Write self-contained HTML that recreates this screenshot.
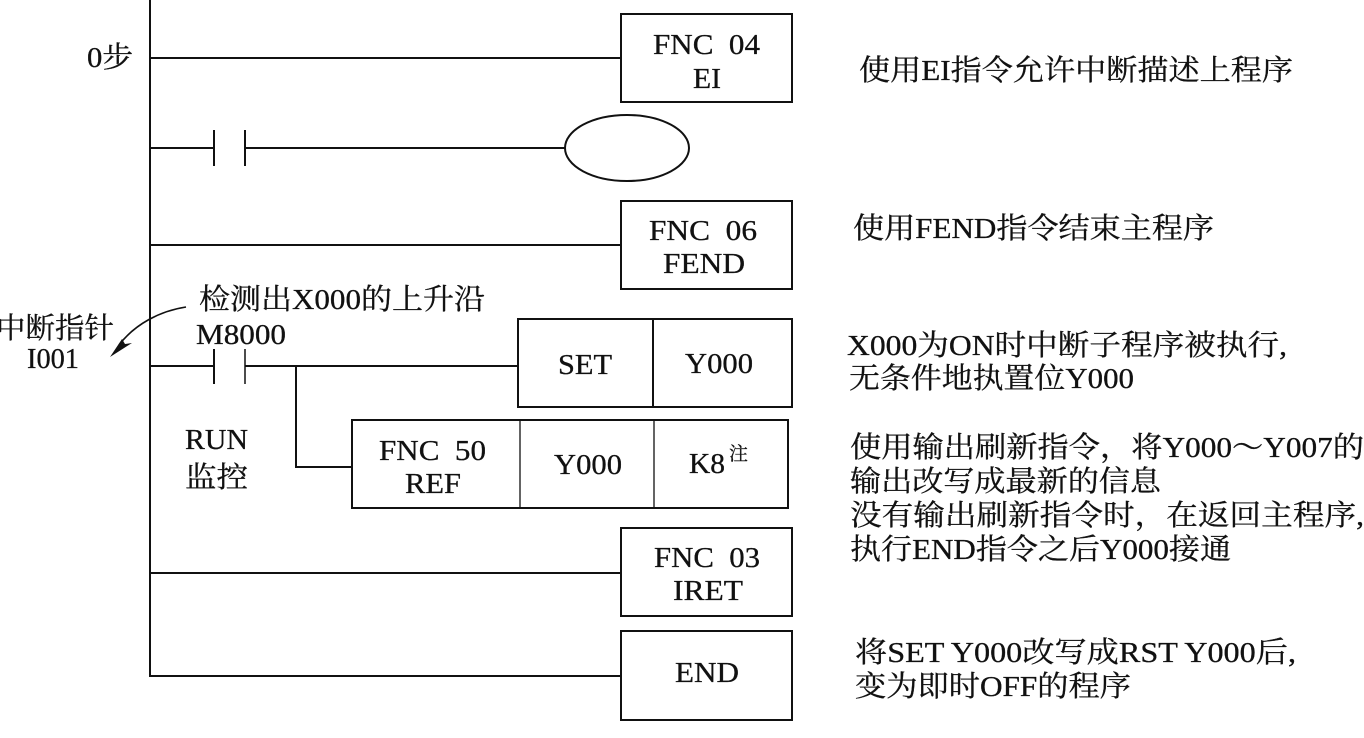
<!DOCTYPE html>
<html><head><meta charset="utf-8"><style>
html,body{margin:0;padding:0;background:#fff;width:1364px;height:738px;overflow:hidden}
svg{display:block}
text{font-family:"Liberation Serif","Noto Serif CJK SC",serif;font-size:29px;fill:#111;stroke:#111;stroke-width:.3;white-space:pre}
.l{fill:none;stroke:#111;stroke-width:2}
.b{fill:#fff;stroke:#111;stroke-width:2}
</style></head><body>
<svg width="1364" height="738" viewBox="0 0 1364 738" xmlns="http://www.w3.org/2000/svg">
<path class="l" d="M150 0V676H621M150 58H621M150 148H214M245 148H566M150 245H621M150 366H214M245 366H518M296 366V467H352M150 573H621"/>
<path class="l" d="M214 130V166M245 130V166M214 349V384"/>
<path d="M245 349V384" stroke="#111" stroke-width="1.5"/>
<ellipse class="b" cx="627" cy="148" rx="62" ry="33"/>
<rect class="b" x="621" y="14" width="171" height="88"/>
<rect class="b" x="621" y="201" width="171" height="88"/>
<rect class="b" x="518" y="319" width="274" height="88"/>
<path class="l" d="M653 319V407"/>
<rect class="b" x="352" y="420" width="436" height="88"/>
<path d="M520 420V508M654 420V508" stroke="#111" stroke-width="1.3"/>
<rect class="b" x="621" y="528" width="171" height="88"/>
<rect class="b" x="621" y="631" width="171" height="89"/>
<path d="M186 307C160 311 135 324 119 345" fill="none" stroke="#111" stroke-width="1.6"/>
<path d="M110 357L122 339L125 344L132 343Z" fill="#111"/>

<text x="87" y="67" textLength="46" lengthAdjust="spacingAndGlyphs">0步</text>
<text x="653" y="54" textLength="107" lengthAdjust="spacingAndGlyphs">FNC  04</text>
<text x="693" y="88" textLength="28" lengthAdjust="spacingAndGlyphs">EI</text>
<text x="649" y="240" textLength="108" lengthAdjust="spacingAndGlyphs">FNC  06</text>
<text x="663" y="273" textLength="82" lengthAdjust="spacingAndGlyphs">FEND</text>
<text x="558" y="374" textLength="54" lengthAdjust="spacingAndGlyphs">SET</text>
<text x="685" y="373" textLength="68" lengthAdjust="spacingAndGlyphs">Y000</text>
<text x="379" y="460" textLength="107" lengthAdjust="spacingAndGlyphs">FNC  50</text>
<text x="405" y="493" textLength="56" lengthAdjust="spacingAndGlyphs">REF</text>
<text x="554" y="474" textLength="68" lengthAdjust="spacingAndGlyphs">Y000</text>
<text x="689" y="473" textLength="36" lengthAdjust="spacingAndGlyphs">K8</text>
<text x="729" y="460" style="font-size:19px">注</text>
<text x="654" y="567" textLength="106" lengthAdjust="spacingAndGlyphs">FNC  03</text>
<text x="673" y="600" textLength="70" lengthAdjust="spacingAndGlyphs">IRET</text>
<text x="675" y="682" textLength="64" lengthAdjust="spacingAndGlyphs">END</text>

<text x="199" y="309" textLength="286" lengthAdjust="spacingAndGlyphs">检测出X000的上升沿</text>
<text x="196" y="344" textLength="90" lengthAdjust="spacingAndGlyphs">M8000</text>
<text x="-4" y="338" textLength="118" lengthAdjust="spacingAndGlyphs">中断指针</text>
<text x="27" y="368" textLength="52" lengthAdjust="spacingAndGlyphs">I001</text>
<text x="185" y="449" textLength="63" lengthAdjust="spacingAndGlyphs">RUN</text>
<text x="185" y="487" textLength="63" lengthAdjust="spacingAndGlyphs">监控</text>

<text x="859" y="80" textLength="434" lengthAdjust="spacingAndGlyphs">使用EI指令允许中断描述上程序</text>
<text x="853" y="238" textLength="361" lengthAdjust="spacingAndGlyphs">使用FEND指令结束主程序</text>
<text x="847" y="355" textLength="440" lengthAdjust="spacingAndGlyphs">X000为ON时中断子程序被执行,</text>
<text x="849" y="388" textLength="285" lengthAdjust="spacingAndGlyphs">无条件地执置位Y000</text>
<text x="850" y="457" textLength="514" lengthAdjust="spacingAndGlyphs">使用输出刷新指令，将Y000～Y007的</text>
<text x="850" y="491" textLength="311" lengthAdjust="spacingAndGlyphs">输出改写成最新的信息</text>
<text x="850" y="525" textLength="514" lengthAdjust="spacingAndGlyphs">没有输出刷新指令时，在返回主程序,</text>
<text x="850" y="559" textLength="381" lengthAdjust="spacingAndGlyphs">执行END指令之后Y000接通</text>
<text x="855" y="662" textLength="441" lengthAdjust="spacingAndGlyphs">将SET Y000改写成RST Y000后,</text>
<text x="855" y="696" textLength="276" lengthAdjust="spacingAndGlyphs">变为即时OFF的程序</text>
</svg>
</body></html>
